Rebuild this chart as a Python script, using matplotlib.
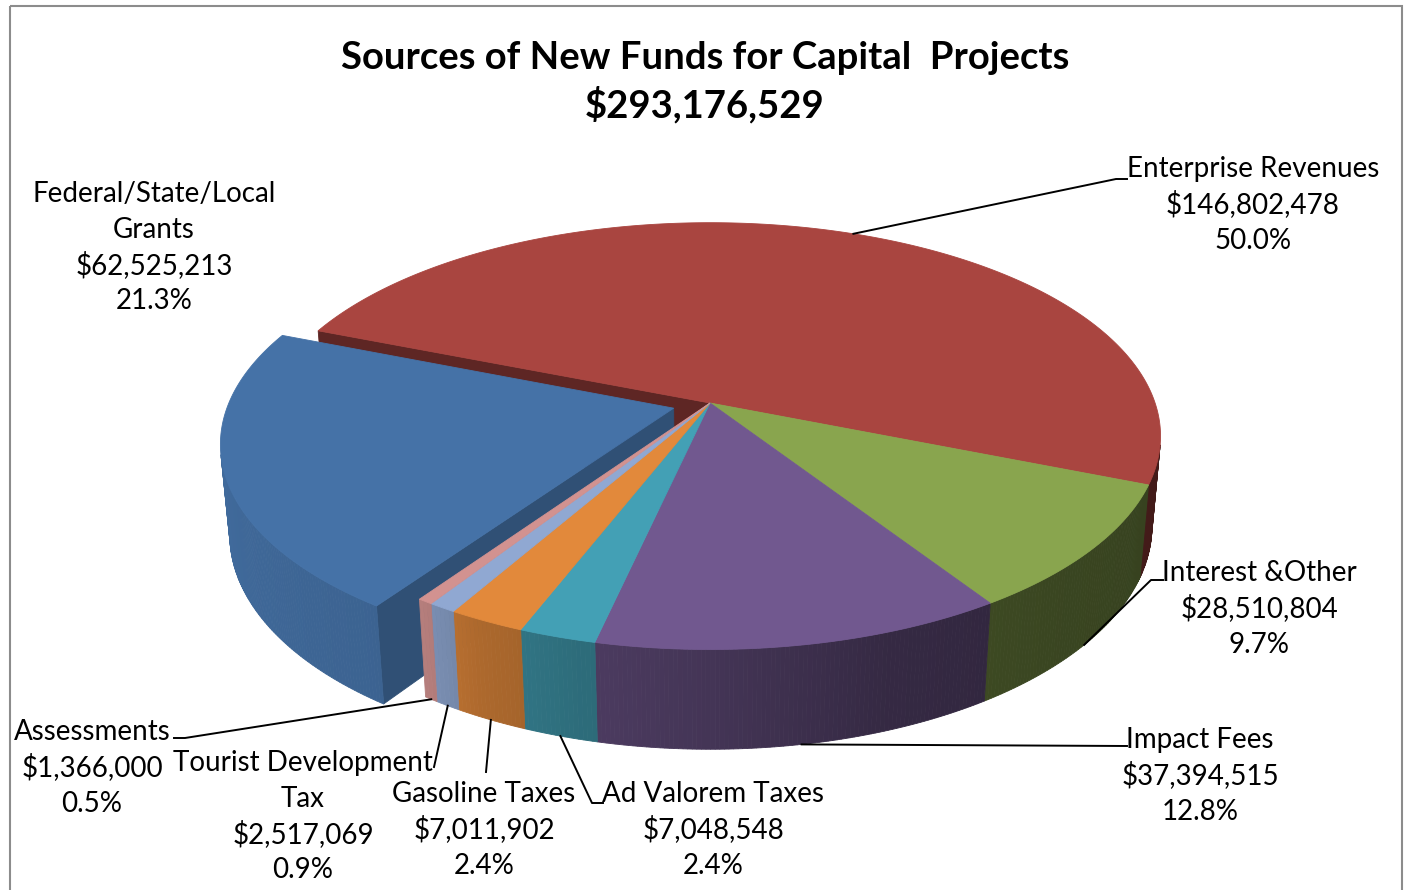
import numpy as np
import matplotlib.pyplot as plt
from matplotlib.patches import Polygon, Rectangle
from matplotlib.colors import to_rgb

# slices, clockwise from the back-left edge of the red one
names = ["Enterprise Revenues", "Interest &Other", "Impact Fees", "Ad Valorem Taxes",
         "Gasoline Taxes", "Tourist Development\nTax", "Assessments",
         "Federal/State/Local\nGrants"]
amounts = [146802478, 28510804, 37394515, 7048548, 7011902, 2517069, 1366000, 62525213]
shares = ["50.0%", "9.7%", "12.8%", "2.4%", "2.4%", "0.9%", "0.5%", "21.3%"]
explode = [0, 0, 0, 0, 0, 0, 0, 0.085]
top_colors = ["#a94540", "#89a54e", "#71588f", "#43a0b5",
              "#e2893b", "#90a8d2", "#d29290", "#4572a7"]

title_lines = ["Sources of New Funds for Capital  Projects", "$293,176,529"]

# label x centre and y of the first line (pixels), elbows of the leader lines
label_x = [1253, 1259, 1200, 713, 484, 303, 92, 154]
label_y0 = [167, 571, 738, 792, 792, 761, 730, 192]
leader_elbow = [[(1127, 179), (1116, 179)], [(1163, 580), (1151, 580)], [(1127, 746)],
                [(603, 803), (592, 803)], [(486, 772)], [(434, 767)],
                [(174, 738), (185, 738)], None]
leader_z = [0.0, 1.0, 1.0, 1.0, 1.0, 1.0, 1.0, 0.0]   # 0 = top rim, 1 = bottom rim
LINE = 35.8

# camera / pie geometry (pie radius = 1)
ELEV = np.radians(27.9)
DIST = 5.70
FOCAL = 2537.0
ORIGIN = (710.0, 403.0)
THICK = 0.231
START = 158.5

S_E, C_E = np.sin(ELEV), np.cos(ELEV)
CAM = np.array([0.0, -DIST * C_E, DIST * S_E])


def project(X, Y, Z):
    yc = Y * S_E + Z * C_E
    d = DIST + Y * C_E - Z * S_E
    return ORIGIN[0] + FOCAL * X / d, ORIGIN[1] - FOCAL * yc / d


def shade(col, f):
    r, g, b = to_rgb(col)
    return (r * f, g * f, b * f)


def facing(normal, point):
    return np.dot(normal, CAM - np.asarray(point)) > 0


# brightness of the outer rim by angle
rim_angle = [-210, -165, -125, -117, -105, -90, -70, -45, 0, 30]
rim_light = [0.95, 0.93, 0.87, 0.77, 0.68, 0.60, 0.47, 0.42, 0.38, 0.38]

fig = plt.figure(figsize=(14.04, 8.9), dpi=100)
ax = fig.add_axes([0, 0, 1, 1])
ax.set_xlim(0, 1404)
ax.set_ylim(890, 0)
ax.axis("off")

total = float(sum(amounts))
spans = [360.0 * v / total for v in amounts]
edges = START - np.concatenate([[0.0], np.cumsum(spans)])
n = len(amounts)

def add_poly(pts, col, z):
    ax.add_patch(Polygon(pts, closed=True, fc=col, ec=col, lw=0.6, zorder=z))

offsets = []
for i in range(n):
    mid = np.radians((edges[i] + edges[i + 1]) / 2)
    offsets.append((explode[i] * np.cos(mid), explode[i] * np.sin(mid)))

for i in range(n):
    a0, a1 = edges[i], edges[i + 1]
    ox, oy = offsets[i]
    ang = np.radians(np.linspace(a0, a1, max(4, int(abs(a0 - a1) * 2))))
    rx, ry = ox + np.cos(ang), oy + np.sin(ang)

    # top face
    tx, ty = project(np.r_[ox, rx], np.r_[oy, ry], 0.0)
    add_poly(np.column_stack([tx, ty]), top_colors[i], 3)

    # outer rim, in thin strips so the light can change along it
    ux, uy = project(rx, ry, 0.0)
    bx, by = project(rx, ry, -THICK)
    for k in range(len(ang) - 1):
        am = 0.5 * (ang[k] + ang[k + 1])
        nrm = np.array([np.cos(am), np.sin(am), 0.0])
        p = (ox + np.cos(am), oy + np.sin(am), -THICK / 2)
        if not facing(nrm, p):
            continue
        f = np.interp(np.degrees(am), rim_angle, rim_light)
        quad = [(ux[k], uy[k]), (ux[k + 1], uy[k + 1]), (bx[k + 1], by[k + 1]), (bx[k], by[k])]
        add_poly(quad, shade(top_colors[i], f), 2)

    # cut faces, only where a slice is pulled out
    for a, nb, sign in ((a0, (i - 1) % n, 1), (a1, (i + 1) % n, -1)):
        if explode[i] == 0 and explode[nb] == 0:
            continue
        t = np.radians(a)
        nrm = sign * np.array([-np.sin(t), np.cos(t), 0.0])
        p = (ox + 0.5 * np.cos(t), oy + 0.5 * np.sin(t), -THICK / 2)
        if not facing(nrm, p):
            continue
        wx = [ox, ox + np.cos(t), ox + np.cos(t), ox]
        wy = [oy, oy + np.sin(t), oy + np.sin(t), oy]
        wz = [0.0, 0.0, -THICK, -THICK]
        px, py = project(np.array(wx), np.array(wy), np.array(wz))
        add_poly(np.column_stack([px, py]), shade(top_colors[i], 0.6 + 0.12 * nrm[0]), 1)

# leader lines and labels, one text per line
font = ["Lato", "DejaVu Sans"]
for i in range(n):
    lines = ("%s\n$%s\n%s" % (names[i], format(amounts[i], ","), shares[i])).split("\n")
    for j, line in enumerate(lines):
        ax.text(label_x[i], label_y0[i] + j * LINE + 10, line, ha="center", va="baseline",
                fontsize=20, family=font, color="black", zorder=5)
    if leader_elbow[i] is None:
        continue
    mid = np.radians((edges[i] + edges[i + 1]) / 2)
    ox, oy = offsets[i]
    ax_, ay_ = project(ox + np.cos(mid), oy + np.sin(mid), -THICK * leader_z[i])
    pts = leader_elbow[i] + [(ax_, ay_)]
    ax.plot([p[0] for p in pts], [p[1] for p in pts], color="black", lw=1.4, zorder=4)

for j, line in enumerate(title_lines):
    ax.text(705, 69 + j * 48, line, ha="center", va="baseline", fontsize=27.5,
            fontweight="bold", family=font, color="black", zorder=5)

ax.add_patch(Rectangle((10, 6), 1392, 900, fill=False, ec="#8c8c8c", lw=1.5, zorder=6))

fig.savefig("out.png", dpi=100)
